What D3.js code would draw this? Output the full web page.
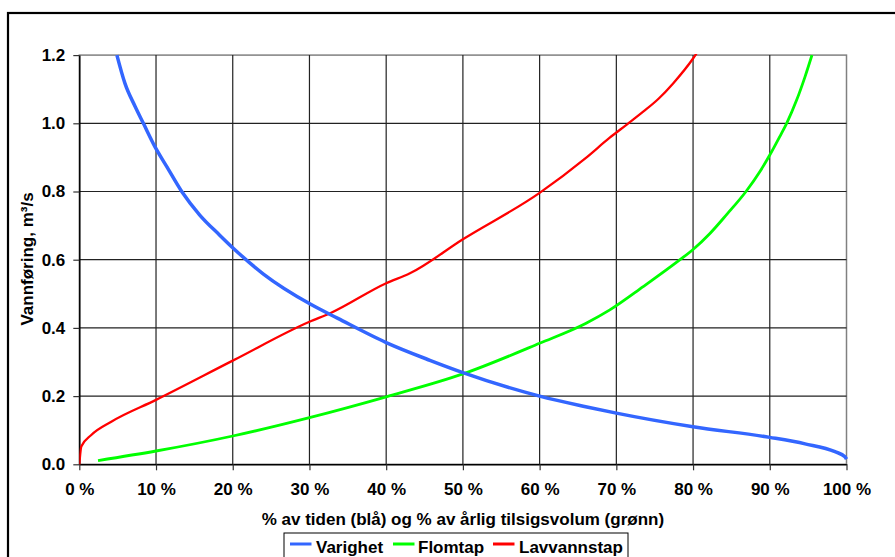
<!DOCTYPE html>
<html>
<head>
<meta charset="utf-8">
<script src="https://cdn.jsdelivr.net/npm/d3@7/dist/d3.min.js"></script>
<style>
html,body{margin:0;padding:0;background:#fff;}
svg{display:block;font-family:"Liberation Sans",Arial,sans-serif;font-weight:bold;}
</style>
</head>
<body>
<svg id="chart" width="895" height="557"></svg>
<script>
// Data (x in %, y in m³/s)
const varighetX = [4.9, 5.95, 7.26, 8.35, 9.87, 11.4, 13.35, 15.7, 18.3, 20.1, 24.0, 30.1, 33.7, 40.0, 45.7, 50.0, 60.0, 66.0, 70.0, 80.0, 90.0, 94.6, 98.5, 99.8, 100];
const varighetY = [1.2, 1.117, 1.05, 1.0, 0.931, 0.873, 0.8, 0.731, 0.672, 0.633, 0.558, 0.47, 0.428, 0.357, 0.305, 0.269, 0.2, 0.169, 0.15, 0.11, 0.079, 0.06, 0.037, 0.022, 0.015];
const flomtapX = [2.44, 10.0, 20.0, 30.0, 40.0, 50.0, 60.0, 66.0, 69.1, 73.5, 78.3, 80.0, 82.2, 84.4, 86.9, 88.7, 90.0, 91.3, 92.2, 93.5, 94.6, 95.5];
const flomtapY = [0.011, 0.039, 0.083, 0.137, 0.198, 0.265, 0.355, 0.413, 0.452, 0.521, 0.6, 0.63, 0.677, 0.733, 0.8, 0.858, 0.907, 0.961, 1.0, 1.068, 1.137, 1.2];
const lavvannX = [0, 0.05, 0.26, 1.56, 4.17, 10.0, 20.0, 30.0, 32.7, 40.0, 43.1, 50.0, 60.0, 66.0, 69.1, 71.4, 73.5, 75.5, 77.4, 80.0, 80.6];
const lavvannY = [0, 0.013, 0.052, 0.086, 0.125, 0.189, 0.304, 0.418, 0.443, 0.531, 0.56, 0.66, 0.796, 0.898, 0.957, 0.997, 1.034, 1.072, 1.117, 1.19, 1.21];
const xTicks = [0, 10, 20, 30, 40, 50, 60, 70, 80, 90, 100];
const yTicks = [0, 0.2, 0.4, 0.6, 0.8, 1.0, 1.2];
const seriesNames = ["Varighet", "Flomtap", "Lavvannstap"];
const seriesColors = ["#3366FF", "#00FF00", "#FF0000"];

const svg = d3.select("#chart");
const pL = 79.3, pR = 846.5, pT = 55.1, pB = 464.3;
const x = d3.scaleLinear().domain([0, 100]).range([pL, pR]);
const y = d3.scaleLinear().domain([0, 1.2]).range([pB, pT]);

// outer frame (extends past the picture on right and bottom)
svg.append("rect").attr("x", 8).attr("y", 13).attr("width", 1000).attr("height", 1000)
  .attr("fill", "none").attr("stroke", "#000").attr("stroke-width", 2.2);

// plot border (top/right gray)
svg.append("rect").attr("x", pL).attr("y", pT).attr("width", pR - pL).attr("height", pB - pT)
  .attr("fill", "#fff").attr("stroke", "#808080").attr("stroke-width", 1.5);

// gridlines
const g = svg.append("g");
g.selectAll("line.h").data(yTicks.slice(1, -1)).enter().append("line")
  .attr("x1", pL).attr("x2", pR).attr("y1", d => y(d)).attr("y2", d => y(d))
  .attr("stroke", "#222").attr("stroke-width", 1.2);
g.selectAll("line.v").data(xTicks.slice(1, -1)).enter().append("line")
  .attr("y1", pT).attr("y2", pB).attr("x1", d => x(d)).attr("x2", d => x(d))
  .attr("stroke", "#222").attr("stroke-width", 1.2);

// axes
const yAxis = svg.append("g").attr("transform", `translate(${pL},0)`)
  .call(d3.axisLeft(y).tickValues(yTicks).tickFormat(d3.format(".1f")).tickSizeInner(6).tickSizeOuter(0).tickPadding(8));
const xAxis = svg.append("g").attr("transform", `translate(0,${pB})`)
  .call(d3.axisBottom(x).tickValues(xTicks).tickFormat(d => d + " %").tickSizeInner(6).tickSizeOuter(0).tickPadding(13));
[yAxis, xAxis].forEach(a => {
  a.select(".domain").attr("stroke", "#000").attr("stroke-width", 1.5);
  a.selectAll(".tick line").attr("stroke", "#333").attr("stroke-width", 1.2);
  a.selectAll("text").attr("font-size", 17).attr("font-weight", "bold").attr("fill", "#000")
    .attr("font-family", '"Liberation Sans",Arial,sans-serif');
});

// lines
svg.append("clipPath").attr("id", "clip").append("rect")
  .attr("x", pL).attr("y", pT - 1).attr("width", pR - pL + 2).attr("height", pB - pT + 2);
const line = d3.line().x(d => x(d[0])).y(d => y(d[1])).curve(d3.curveMonotoneX);
const series = [
  d3.zip(varighetX, varighetY),
  d3.zip(flomtapX, flomtapY),
  d3.zip(lavvannX, lavvannY)
];
const widths = [3.5, 2.8, 2.3];
const lg = svg.append("g").attr("clip-path", "url(#clip)");
[1, 2, 0].forEach(i => {
  lg.append("path").datum(series[i]).attr("d", line)
    .attr("fill", "none").attr("stroke", seriesColors[i]).attr("stroke-width", widths[i]);
});

// axis titles
svg.append("text").attr("x", (pL + pR) / 2).attr("y", 525).attr("text-anchor", "middle")
  .attr("font-size", 17).text("% av tiden (blå) og % av årlig tilsigsvolum (grønn)");
svg.append("text").attr("transform", "translate(33,259) rotate(-90)").attr("text-anchor", "middle")
  .attr("font-size", 17).text("Vannføring, m³/s");

// legend
svg.append("rect").attr("x", 284).attr("y", 533).attr("width", 344).attr("height", 40)
  .attr("fill", "#fff").attr("stroke", "#000").attr("stroke-width", 1);
const legX = [290, 393, 493];
const legTextX = [316, 418, 519];
seriesNames.forEach((n, i) => {
  svg.append("line").attr("x1", legX[i]).attr("x2", legX[i] + 21.5).attr("y1", 544).attr("y2", 544)
    .attr("stroke", seriesColors[i]).attr("stroke-width", 3);
  svg.append("text").attr("x", legTextX[i]).attr("y", 553).attr("font-size", 17).text(n);
});
</script>
</body>
</html>
